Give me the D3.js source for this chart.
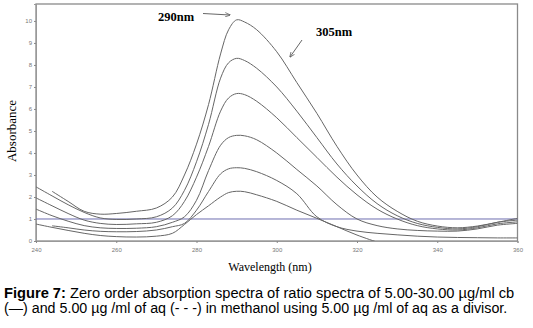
<!DOCTYPE html>
<html><head><meta charset="utf-8">
<script src="https://cdn.jsdelivr.net/npm/d3@7"></script>
<style>body{margin:0;background:#fff}svg{display:block}</style>
</head><body>
<svg id="c" width="533" height="328"></svg>
<script>
const wavelengths = [240,244,248,252,256,260,265,270,274,277,280,283,286,288,290,292,295,300,305,310,315,320,325,330,335,340,345,350,355,360];
const seriesA = [null,2.26,1.8,1.35,1.22,1.25,1.35,1.5,2.0,3.0,4.4,6.2,8.5,9.6,10.05,9.95,9.6,8.6,7.2,5.8,4.3,3.0,2.0,1.35,0.9,0.68,0.6,0.68,0.85,1.03];
const seriesB = [2.46,2.05,1.65,1.3,1.05,0.98,1.0,1.1,1.5,2.3,3.6,5.3,7.4,8.1,8.3,8.2,7.85,7.0,5.9,4.7,3.5,2.5,1.7,1.15,0.8,0.62,0.55,0.65,0.85,0.95];
const seriesC = [1.96,1.6,1.25,0.95,0.8,0.75,0.78,0.85,1.15,1.8,2.9,4.3,5.9,6.5,6.7,6.65,6.35,5.6,4.7,3.8,2.9,2.1,1.45,1.0,0.7,0.55,0.5,0.6,0.78,0.87];
const seriesD = [1.45,1.15,0.9,0.7,0.6,0.57,0.58,0.65,0.85,1.1,1.85,3.2,4.35,4.7,4.8,4.78,4.6,4.0,3.25,2.5,1.65,1.0,0.7,0.55,0.48,0.45,0.45,0.55,0.72,0.8];
const seriesE = [null,0.69,0.6,0.5,0.44,0.42,0.43,0.5,0.65,0.8,1.4,2.25,3.05,3.28,3.33,3.3,3.15,2.75,2.15,1.1,0.65,0.45,0.35,0.28,0.22,0.18,0.16,0.15,0.14,0.14];
const seriesF = [0.77,0.62,0.48,0.35,0.25,0.2,0.18,0.22,0.35,0.75,1.2,1.6,2.0,2.2,2.26,2.24,2.1,1.8,1.4,1.03,0.65,0.27,-0.05,null,null,null,null,null,null,null];
const divisorLevel = 1;
const xTicks = [240,260,280,300,320,340,360];
const yTicks = [0,1,2,3,4,5,6,7,8,9,10];

const svg = d3.select("#c");
const L = 36, R = 517.5, T = 4, B = 241;
const x = d3.scaleLinear().domain([240,360]).range([L,R]);
const y = d3.scaleLinear().domain([0,10.77]).range([B,T]);

svg.append("clipPath").attr("id","clip").append("rect")
  .attr("x",L).attr("y",T).attr("width",R-L).attr("height",B-T);

// frame
svg.append("rect").attr("x",L).attr("y",T).attr("width",R-L).attr("height",B-T)
  .attr("fill","none").attr("stroke","#8a8a8a").attr("stroke-width",1.3);

// axes
const yAxis = d3.axisLeft(y).tickValues(yTicks).tickSize(2).tickPadding(2).tickFormat(d3.format("d"));
const gy = svg.append("g").attr("transform",`translate(${L},0)`).call(yAxis);
const xAxis = d3.axisBottom(x).tickValues(xTicks).tickSize(2).tickPadding(5).tickFormat(d3.format("d"));
const gx = svg.append("g").attr("transform",`translate(0,${B})`).call(xAxis);
[gx,gy].forEach(g=>{
  g.select(".domain").attr("stroke","#999").attr("stroke-width",1);
  g.selectAll(".tick line").attr("stroke","#888");
  g.selectAll(".tick text").attr("fill","#777").style("font-family","Liberation Sans, Arial, sans-serif").style("font-size","6px");
});

// divisor line
svg.append("line").attr("x1",L).attr("x2",R).attr("y1",y(divisorLevel)).attr("y2",y(divisorLevel))
  .attr("stroke","#6e6eb0").attr("stroke-width",1);

const line = d3.line()
  .defined(d=>d[1]!==null)
  .x(d=>x(d[0])).y(d=>y(d[1]))
  .curve(d3.curveCatmullRom.alpha(0.5));
const all = [seriesA,seriesB,seriesC,seriesD,seriesE,seriesF];
const gl = svg.append("g").attr("clip-path","url(#clip)");
all.forEach(s=>{
  gl.append("path").datum(wavelengths.map((w,i)=>[w,s[i]]))
    .attr("d",line).attr("fill","none").attr("stroke","#666").attr("stroke-width",1);
});

// annotations
const serif = "Liberation Serif, Times New Roman, serif";
svg.append("text").attr("x",158).attr("y",21).text("290nm")
  .style("font-family",serif).style("font-weight","bold").style("font-size","12.5px");
svg.append("text").attr("x",316).attr("y",36).text("305nm")
  .style("font-family",serif).style("font-weight","bold").style("font-size","12.5px");
const defs = svg.append("defs");
defs.append("marker").attr("id","ah").attr("viewBox","0 0 10 10").attr("refX",9).attr("refY",5)
  .attr("markerWidth",6).attr("markerHeight",6).attr("orient","auto")
  .append("path").attr("d","M0,1 L10,5 L0,9").attr("fill","none").attr("stroke","#555").attr("stroke-width",1.3);
svg.append("line").attr("x1",203).attr("y1",13.5).attr("x2",230).attr("y2",15)
  .attr("stroke","#555").attr("stroke-width",0.9).attr("marker-end","url(#ah)");
svg.append("line").attr("x1",302).attr("y1",40).attr("x2",290).attr("y2",57)
  .attr("stroke","#555").attr("stroke-width",0.9).attr("marker-end","url(#ah)");

// axis titles
svg.append("text").attr("transform","translate(16,131) rotate(-90)").attr("text-anchor","middle")
  .text("Absorbance").style("font-family",serif).style("font-size","13px");
svg.append("text").attr("x",270).attr("y",271).attr("text-anchor","middle")
  .text("Wavelength (nm)").style("font-family",serif).style("font-size","12px");

// caption
const sans = "Liberation Sans, Arial, sans-serif";
const cap1 = svg.append("text").attr("x",4).attr("y",298).style("font-family",sans).style("font-size","14px");
cap1.append("tspan").style("font-weight","bold").text("Figure 7:");
cap1.append("tspan").text(" Zero order absorption spectra of ratio spectra of 5.00-30.00 µg/ml cb");
const cap2 = svg.append("text").attr("x",4).attr("y",313).style("font-family",sans).style("font-size","14px")
  .text("(\u2014) and 5.00 µg /ml of aq (- - -) in methanol using 5.00 µg /ml of aq as a divisor.");
const w1 = cap1.node().getComputedTextLength();
cap1.style("font-size",(14*511/w1)+"px");
const w2 = cap2.node().getComputedTextLength();
cap2.style("font-size",(14*504/w2)+"px");
</script>
</body></html>
